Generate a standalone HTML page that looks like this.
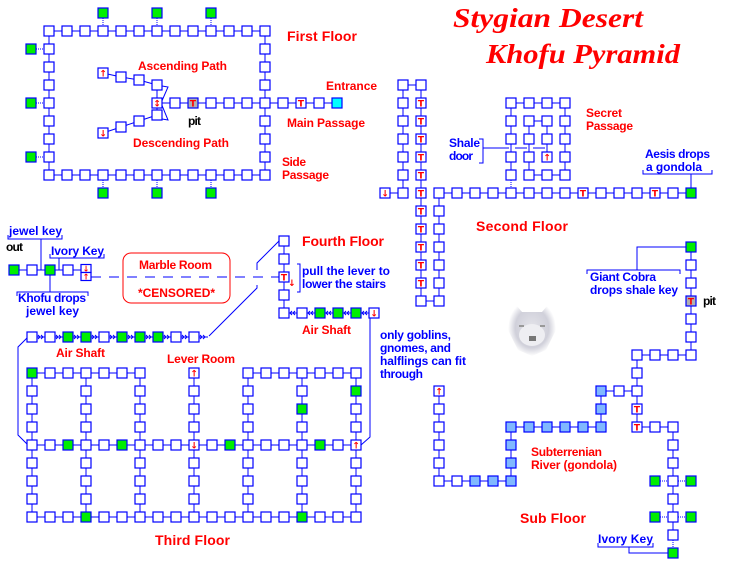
<!DOCTYPE html>
<html><head><meta charset="utf-8"><style>
html,body{margin:0;padding:0;background:#fff;width:730px;height:565px;overflow:hidden}
svg{display:block}
.r{fill:#f00;font:bold 12px "Liberation Sans",sans-serif}
.b{fill:#00f;font:bold 12px "Liberation Sans",sans-serif}
.k{fill:#000;font:bold 12px "Liberation Sans",sans-serif}
.big{font-size:14px}
.t{fill:#f00;font:bold italic 27px "Liberation Serif",serif}
</style></head><body>
<svg id="s" width="730" height="565" viewBox="0 0 730 565" xmlns="http://www.w3.org/2000/svg">
<defs><radialGradient id="w" cx="50%" cy="50%" r="50%"><stop offset="0" stop-color="#e4e4ea"/><stop offset="0.7" stop-color="#d0d0da"/><stop offset="1" stop-color="#fff"/></radialGradient></defs>
<g id="lines" stroke="#00f" stroke-width="1" fill="none"></g>
<g id="boxes"></g>
<g>
<polygon points="512,300 522,312 542,312 552,300 556,330 546,350 532,356 518,350 508,330" fill="url(#w)"/>
<ellipse cx="532" cy="335" rx="13" ry="11" fill="#eeeef2"/>
<rect x="529" y="336" width="7" height="5" fill="#777"/>
<rect x="519" y="325" width="5" height="2" fill="#999"/><rect x="540" y="325" width="5" height="2" fill="#999"/>
</g>
<text class="t" x="453" y="27" textLength="190" lengthAdjust="spacingAndGlyphs">Stygian Desert</text>
<text class="t" x="486" y="63" textLength="194" lengthAdjust="spacingAndGlyphs">Khofu Pyramid</text>
<text class="r big" x="287" y="41" textLength="70">First Floor</text>
<text class="r" x="138" y="70" textLength="89">Ascending Path</text>
<text class="r" x="326" y="90" textLength="51">Entrance</text>
<text class="k" x="188" y="125" textLength="13">pit</text>
<text class="r" x="287" y="127" textLength="78">Main Passage</text>
<text class="r" x="133" y="147" textLength="96">Descending Path</text>
<text class="r" x="282" y="166" textLength="24">Side</text>
<text class="r" x="282" y="179" textLength="47">Passage</text>
<text class="r" x="586" y="117" textLength="36">Secret</text>
<text class="r" x="586" y="130" textLength="47">Passage</text>
<text class="b" x="449" y="147" textLength="31">Shale</text>
<text class="b" x="449" y="160" textLength="24">door</text>
<text class="b" x="645" y="158" textLength="65">Aesis drops</text>
<text class="b" x="646" y="171" textLength="56">a gondola</text>
<text class="r big" x="476" y="231" textLength="92">Second Floor</text>
<text class="b" x="590" y="281" textLength="66">Giant Cobra</text>
<text class="b" x="590" y="294" textLength="88">drops shale key</text>
<text class="k" x="703" y="305" textLength="13">pit</text>
<text class="r" x="531" y="456" textLength="71">Subterrenian</text>
<text class="r" x="531" y="469" textLength="86">River (gondola)</text>
<text class="r big" x="520" y="523" textLength="66">Sub Floor</text>
<text class="b" x="598" y="543" textLength="55">Ivory Key</text>
<text class="b" x="9" y="235" textLength="53">jewel key</text>
<text class="k" x="6" y="251" textLength="17">out</text>
<text class="b" x="51" y="255" textLength="53">Ivory Key</text>
<text class="b" x="18" y="302" textLength="68">Khofu drops</text>
<text class="b" x="26" y="315" textLength="53">jewel key</text>
<rect x="123" y="253" width="107" height="50" rx="8" fill="none" stroke="#f00"/>
<text class="r" x="139" y="269" textLength="73">Marble Room</text>
<text class="r" x="138" y="297" textLength="77">*CENSORED*</text>
<text class="r big" x="302" y="246" textLength="82">Fourth Floor</text>
<text class="b" x="302" y="275" textLength="88">pull the lever to</text>
<text class="b" x="302" y="288" textLength="84">lower the stairs</text>
<text class="r" x="302" y="334" textLength="49">Air Shaft</text>
<text class="r" x="56" y="357" textLength="49">Air Shaft</text>
<text class="r" x="167" y="363" textLength="68">Lever Room</text>
<text class="b" x="380" y="339" textLength="71">only goblins,</text>
<text class="b" x="380" y="352" textLength="71">gnomes, and</text>
<text class="b" x="380" y="365" textLength="86">halflings can fit</text>
<text class="b" x="380" y="378" textLength="43">through</text>
<text class="r big" x="155" y="545" textLength="75">Third Floor</text>
</svg>
<script>
var Ls=[],Bm={};
function L(a,b,c,d,ex){Ls.push('<line x1="'+a+'" y1="'+b+'" x2="'+c+'" y2="'+d+'" '+(ex||'')+'/>')}
function P(pts,ex){Ls.push('<polyline points="'+pts+'" '+(ex||'')+'/>')}
var D='stroke-dasharray="1,1"';
function B(x,y,f,g){Bm[x+','+y]=[x,y,f||'#fff',g||''];}
function R(y,x0,x1){L(x0,y,x1,y);for(var x=x0;x<=x1;x+=18)if(!Bm[x+','+y])B(x,y);}
function C(x,y0,y1){L(x,y0,x,y1);for(var y=y0;y<=y1;y+=18)if(!Bm[x+','+y])B(x,y);}
var G='#00ee00',LB='#80b8ff',GR='#b0b0b0';
R(31,49,265);R(175,49,265);C(49,31,175);C(265,31,175);
[103,157,211].forEach(function(x){B(x,13,G);L(x,18,x,26,D);B(x,193,G);L(x,180,x,188,D);});
[49,103,157].forEach(function(y){B(31,y,G);L(36,y,44,y,D);});
B(193,103,GR,'T');B(301,103,'#fff','T');B(337,103,'#00ffff');B(157,103,'#fff','↕');
R(103,157,337);
P('103,73 121,77 139,80 157,85');P('103,133 121,127 139,121 157,115');
B(103,73,'#fff','↑');B(121,77);B(139,80);B(157,85);
B(103,133,'#fff','↓');B(121,127);B(139,121);B(157,115);
L(157,85,157,115);P('162,86 168,87 161,103 168,120 162,119');
for(var y=103;y<=283;y+=18)B(421,y,'#fff','T');
C(403,85,193);C(421,85,301);L(403,85,421,85);B(385,193,'#fff','↓');L(385,193,403,193);
C(439,193,301);L(421,301,439,301);
B(583,193,'#fff','T');B(655,193,'#fff','T');B(691,193,G);R(193,439,691);
R(103,511,565);C(511,103,175);C(565,103,175);R(175,529,565);C(529,121,175);B(547,157,'#fff','↑');R(121,529,547);C(547,121,157);
L(511,180,511,188,D);
L(483,148,509,148);L(515,148,527,148);L(533,148,545,148);
P('479,139 483,139 483,163 479,163');
P('643,170 643,174 712,174 712,170');L(691,174,691,189);
B(691,247,G);B(691,301,GR,'T');C(691,247,355);R(355,637,691);
B(637,409,'#fff','T');B(637,427,'#fff','T');C(637,355,427);
B(601,391,LB);R(391,601,637);B(601,409,LB);B(601,427,LB);C(601,391,427);
[511,529,547,565,583].forEach(function(x){B(x,427,LB)});R(427,511,601);
B(511,445,LB);B(511,463,LB);B(511,481,LB);C(511,427,481);
B(475,481,LB);B(493,481,LB);R(481,439,511);
B(439,391,'#fff','↑');C(439,391,481);
R(427,637,673);B(673,553,G);C(673,427,535);L(673,540,673,548,D);
[481,517].forEach(function(y){B(655,y,G);B(691,y,G);L(660,y,668,y,D);L(678,y,686,y,D);});
P('587,274 587,270 680,270 680,274');P('637,270 637,247 686,247');
P('598,543 598,547 653,547 653,543');P('629,547 629,553 668,553');
L(14,270,82,270);B(14,270,G);B(32,270);B(50,270,G);B(68,270);
P('41,270 41,239');P('8,235 8,239 62,239 62,235');
P('59,270 59,258');P('50,254 50,258 104,258 104,254');
P('50,270 50,292');P('17,296 17,292 88,292 88,296');
L(91,277,280,277,'stroke-dasharray="10,8"');
B(284,277,'#fff','T');C(284,241,313);
L(284,313,374,313);[284,302,320,338,356,374].forEach(function(x,i){B(x,313,i>=2&&i<=4?G:'#fff',i==5?'↓':'');});
P('297,264 300,264 300,292 297,292');
P('280,240 257,263 257,270');P('257,285 257,288 209,336');
L(32,337,208,337);
[32,50,68,86,104,122,140,158,176,194].forEach(function(x){B(x,337,[68,86,122,140,158].indexOf(x)>=0?G:'#fff')});
P('28,337 18,347 18,435 27,444');P('370,318 370,437 361,445');
R(373,32,140);R(373,248,356);B(194,373,'#fff','↑');
B(32,373,G);B(68,445,G);B(122,445,G);B(230,445,G);B(320,445,G);B(86,517,G);B(302,517,G);B(302,409,G);B(356,391,G);
B(194,445,'#fff','↓');B(356,445,'#fff','↑');
[32,86,140,194,248,302,356].forEach(function(x){C(x,373,517)});
R(445,32,356);R(517,32,356);
// chevrons
var ch='';
[32,50,68,86,104,122,140,158,176,194].forEach(function(x){ch+='<polyline points="'+(x+6)+',335 '+(x+8)+',337 '+(x+6)+',339"/><polyline points="'+(x+9)+',335 '+(x+11)+',337 '+(x+9)+',339"/>';});
[284,302,320,338,356].forEach(function(x){ch+='<polyline points="'+(x+8)+',311 '+(x+6)+',313 '+(x+8)+',315"/><polyline points="'+(x+11)+',311 '+(x+9)+',313 '+(x+11)+',315"/>';});
document.getElementById('lines').innerHTML=Ls.join('')+ch;
var F='font-family="DejaVu Sans,sans-serif" font-weight="bold"';
var h='';for(var k in Bm){var b=Bm[k];h+='<rect x="'+(b[0]-5)+'" y="'+(b[1]-5)+'" width="10" height="10" fill="'+b[2]+'" stroke="#00f" stroke-width="1.2"/>';
if(b[3])h+='<text x="'+b[0]+'" y="'+(b[1]+3.5)+'" text-anchor="middle" fill="#f00" '+F+' font-size="9">'+b[3]+'</text>';}
h+='<rect x="81" y="264.5" width="10" height="8" fill="#fff" stroke="#00f" stroke-width="1.2"/><rect x="81" y="272.5" width="10" height="8" fill="#fff" stroke="#00f" stroke-width="1.2"/>';
h+='<text x="86" y="271.5" text-anchor="middle" fill="#f00" font-size="8" '+F+'>↓</text><text x="86" y="279.5" text-anchor="middle" fill="#f00" font-size="8" '+F+'>↑</text>';
h+='<text x="288" y="286" fill="#f00" font-size="9" '+F+'>↓</text>';
document.getElementById('boxes').innerHTML=h;
</script>
</body></html>
